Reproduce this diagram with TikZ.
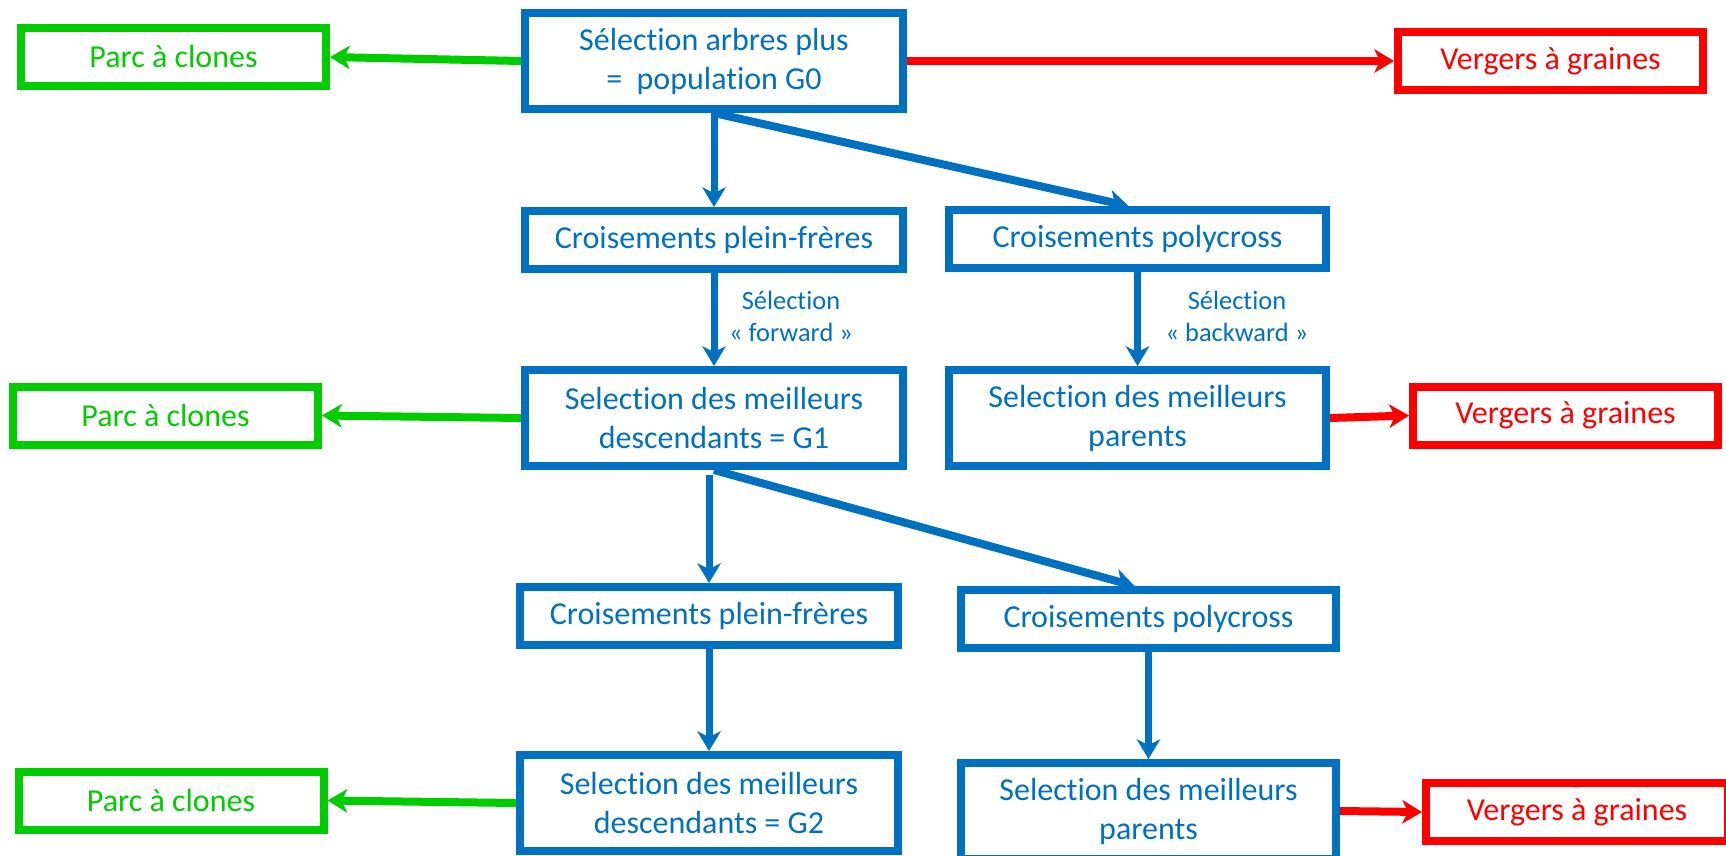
\documentclass[tikz,border=0pt]{standalone}
\usepackage{fontspec}
\setmainfont{Carlito}[Ligatures=NoCommon]
\usetikzlibrary{arrows.meta,calc}
\definecolor{flowblue}{RGB}{0,112,192}
\definecolor{clonegreen}{RGB}{0,204,0}
\definecolor{seedred}{RGB}{255,0,0}

\begin{document}
\begin{tikzpicture}[x=1pt,y=-1pt,
  box/.style={draw, line width=8pt, inner sep=0pt, align=center,
    font=\fontsize{32}{39}\selectfont},
  bluebox/.style={box, draw=flowblue, text=flowblue},
  greenbox/.style={box, draw=clonegreen, text=clonegreen},
  redbox/.style={box, draw=seedred, text=seedred},
  tallbox/.style={minimum width=#1, minimum height=96pt},
  flatbox/.style={minimum width=#1, minimum height=58pt},
  tip/.style={-{Stealth[length=20pt,width=24pt,inset=6pt,line width=0pt]}},
  bluelink/.style={tip, draw=flowblue, line width=#1},
  greenlink/.style={tip, draw=clonegreen, line width=8pt},
  redlink/.style={tip, draw=seedred, line width=8pt},
  steplabel/.style={text=flowblue, align=center, inner sep=0pt,
    font=\fontsize{26.4}{32}\selectfont}
]
\useasboundingbox (0,0) rectangle (1726,855);
\clip (0,0) rectangle (1726,855);
\fill[white] (0,0) rectangle (1726,855);

% main column of selection steps
\node[bluebox, tallbox=378pt] (g0)   at (714,61)    {Sélection arbres plus\\=\ \ population G0};
\node[bluebox, flatbox=378pt] (pf1)  at (714,240)   {Croisements plein-frères};
\node[bluebox, flatbox=377pt] (pc1)  at (1137.5,239) {Croisements polycross};
\node[bluebox, tallbox=378pt] (g1)   at (714,418)   {Selection des meilleurs\\descendants = G1};
\node[bluebox, tallbox=377pt] (par1) at (1137.5,418) {Selection des meilleurs\\parents};
\node[bluebox, flatbox=378pt] (pf2)  at (709,616)   {Croisements plein-frères};
\node[bluebox, flatbox=375pt] (pc2)  at (1148.5,619) {Croisements polycross};
\node[bluebox, tallbox=378pt] (g2)   at (709,803)   {Selection des meilleurs\\descendants = G2};
\node[bluebox, tallbox=375pt] (par2) at (1148.5,811) {Selection des meilleurs\\parents};

% clone banks
\node[greenbox, flatbox=305pt] (pac0) at (173.5,57)   {Parc à clones};
\node[greenbox, flatbox=305pt] (pac1) at (165.5,415.5) {Parc à clones};
\node[greenbox, flatbox=305pt] (pac2) at (171,800.5)  {Parc à clones};

% seed orchards
\node[redbox, flatbox=305pt] (vg0) at (1550.5,61)   {Vergers à graines};
\node[redbox, flatbox=305pt] (vg1) at (1565.5,415.5) {Vergers à graines};
\node[redbox, flatbox=302pt] (vg2) at (1577,812)    {Vergers à graines};

% selection labels
\node[steplabel] (lfwd) at (791,316)  {Sélection\\« forward »};
\node[steplabel] (lbwd) at (1237,316) {Sélection\\« backward »};

% generation 0
\draw[greenlink] (g0.west) -- (pac0.east);
\draw[redlink] (g0.east) -- (vg0.west);
\draw[bluelink=7pt] (g0.south) -- (pf1.north);
\draw[bluelink=8pt] (g0.south) -- ($(pc1.north)+(-9,0)$);
\draw[bluelink=7pt] (pf1.south) -- (g1.north);
\draw[bluelink=7pt] (pc1.south) -- (par1.north);

% generation 1
\draw[greenlink] (g1.west) -- (pac1.east);
\draw[redlink] (par1.east) -- (vg1.west);
\draw[bluelink=7pt] ($(pf2.north |- g1.south)+(0,5)$) -- (pf2.north);
\draw[bluelink=8pt] (g1.south) -- ($(pc2.north)+(-14,0)$);
\draw[bluelink=7pt] (pf2.south) -- (g2.north);
\draw[bluelink=7pt] (pc2.south) -- (par2.north);

% generation 2
\draw[greenlink] (g2.west) -- (pac2.east);
\draw[redlink] (par2.east) -- (vg2.west);
\end{tikzpicture}
\end{document}
